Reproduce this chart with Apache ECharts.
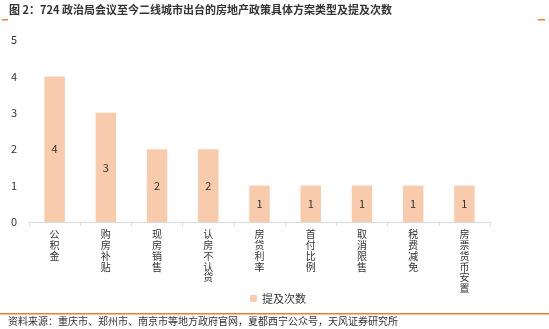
<!DOCTYPE html>
<html><head><meta charset="utf-8">
<script src="https://cdn.jsdelivr.net/npm/echarts@6/dist/echarts.min.js"></script>
<style>html,body{margin:0;padding:0;background:#fff}#c{width:549px;height:329px}</style>
</head><body><div id="c"></div>
<script>
const categories = ['公积金','购房补贴','现房销售','认房不认贷','房贷利率','首付比例','取消限售','税费减免','房票货币安置'];
const counts = [4,3,2,2,1,1,1,1,1];
const yTicks = [0,1,2,3,4,5];
const seriesName = '提及次数';
const titleText = '图 2：724 政治局会议至今二线城市出台的房地产政策具体方案类型及提及次数';
const sourceText = '资料来源：重庆市、郑州市、南京市等地方政府官网，夏都西宁公众号，天风证券研究所';
const FONT = '"Noto Sans CJK SC","Noto Sans",sans-serif';
const chart = echarts.init(document.getElementById('c'));
chart.setOption({
  animation:false,
  textStyle:{fontFamily:FONT},
  grid:{left:29,right:59,top:40,bottom:107},
  legend:{data:[seriesName],left:245,top:288,itemWidth:7,itemHeight:7,itemGap:2,
    textStyle:{fontSize:11,color:'#333',fontFamily:FONT}},
  xAxis:{type:'category',data:categories,
    axisLine:{lineStyle:{color:'#d9d9d9'}},
    axisTick:{show:true,length:4,lineStyle:{color:'#d9d9d9'}},
    axisLabel:{interval:0,margin:7,fontSize:10,lineHeight:10.8,color:'#333',verticalAlign:'top',
      formatter:v=>v.split('').join('\n')}},
  yAxis:{type:'value',min:yTicks[0],max:yTicks[yTicks.length-1],interval:1,
    axisLine:{show:false},axisTick:{show:false},splitLine:{show:false},
    axisLabel:{fontSize:11,color:'#333',margin:12}},
  series:[{name:seriesName,type:'bar',data:counts,barWidth:'40%',
    itemStyle:{color:'#F8CBAD'},
    label:{show:true,position:'inside',fontSize:11,color:'#333'}}],
  graphic:[
    {type:'text',left:9,top:4,style:{text:titleText,font:'bold 11px '+FONT,fill:'#333'}},
    {type:'rect',shape:{x:2,y:19,width:6,height:1.5},style:{fill:'#ED7D31'}},
    {type:'rect',shape:{x:538,y:19,width:7,height:1.5},style:{fill:'#ED7D31'}},
    {type:'rect',shape:{x:0,y:313,width:549,height:1.5},style:{fill:'#ED7D31'}},
    {type:'text',left:8,top:316,style:{text:sourceText,font:'10px '+FONT,fill:'#333'}}
  ]
});
</script></body></html>
